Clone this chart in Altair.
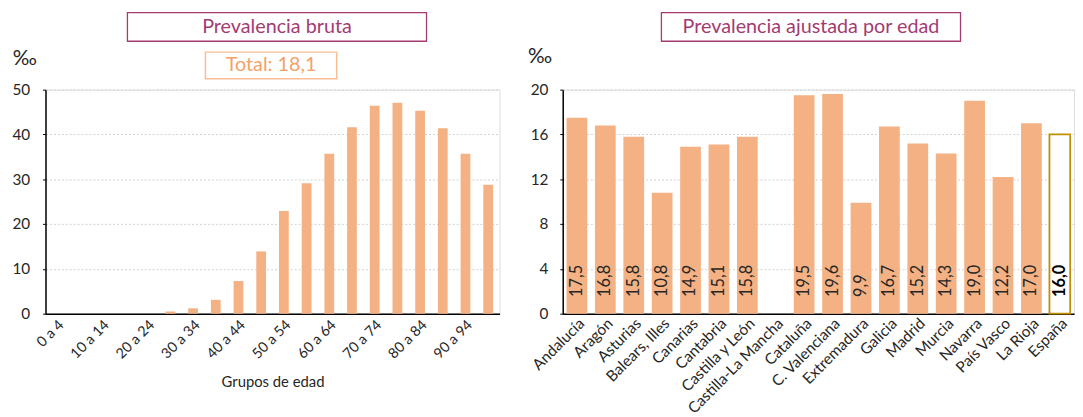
import altair as alt
import pandas as pd

# ---------- data ----------
edades = ["0 a 4", "5 a 9", "10 a 14", "15 a 19", "20 a 24", "25 a 29", "30 a 34",
          "35 a 39", "40 a 44", "45 a 49", "50 a 54", "55 a 59", "60 a 64", "65 a 69",
          "70 a 74", "75 a 79", "80 a 84", "85 a 89", "90 a 94", "95 y más"]
prev_bruta = [0.0, 0.0, 0.0, 0.0, 0.0, 0.5, 1.2, 3.1, 7.3, 13.9, 22.9, 29.1, 35.7,
              41.6, 46.4, 47.1, 45.3, 41.4, 35.7, 28.8]
etiquetas_edad = edades[0:19:2]

ccaa = ["Andalucía", "Aragón", "Asturias", "Balears, Illes", "Canarias", "Cantabria",
        "Castilla y León", "Castilla-La Mancha", "Cataluña", "C. Valenciana",
        "Extremadura", "Galicia", "Madrid", "Murcia", "Navarra", "País Vasco",
        "La Rioja", "España"]
prev_ajustada = [17.5, 16.8, 15.8, 10.8, 14.9, 15.1, 15.8, None, 19.5, 19.6, 9.9,
                 16.7, 15.2, 14.3, 19.0, 12.2, 17.0, 16.0]
total_texto = "Total: 18,1"
titulo_izq = "Prevalencia bruta"
titulo_der = "Prevalencia ajustada por edad"
unidad = "‰"

# ---------- styles ----------
FONT = "Lato"
BAR = "#F4B183"
PURPLE = "#A33B72"
ORANGE_T = "#F3A267"
ORANGE_B = "#F7BE94"
GOLD = "#BF9000"
TXT = "#262626"
TFS = 20      # title font size
AFS = 14.5    # axis label font size
XFS = 14.5    # rotated label font size (left)
XFS2 = 15.5   # rotated label font size (right)

W1, H = 460, 227
W2 = 518

df1 = pd.DataFrame({"edad": edades, "valor": prev_bruta})
df2 = pd.DataFrame({
    "ccaa": ccaa,
    "valor": prev_ajustada,
    "etiqueta": [("" if v is None else f"{v:.1f}".replace(".", ",")) for v in prev_ajustada],
    "esp": [c == "España" for c in ccaa],
})

one = pd.DataFrame({"a": [0]})


def box(x1, x2, y1, y2, color, width=1.3):
    return alt.Chart(one).mark_rect(fill="white", fillOpacity=0, stroke=color,
                                    strokeWidth=width).encode(
        x=alt.value(x1), x2=alt.value(x2), y=alt.value(y1), y2=alt.value(y2))


def label(txt, x, y, color, size):
    return alt.Chart(pd.DataFrame({"t": [txt]})).mark_text(
        font=FONT, fontSize=size, color=color, align="center", baseline="middle"
    ).encode(text="t:N", x=alt.value(x), y=alt.value(y))


# ---------- left chart ----------
xl = alt.X("edad:N", sort=edades,
           scale=alt.Scale(domain=edades, paddingInner=0.57, paddingOuter=0.285),
           axis=alt.Axis(values=etiquetas_edad, labelAngle=315, ticks=False,
                         domainColor="black", domainWidth=1.5,
                         labelFontSize=XFS, labelColor=TXT, labelPadding=4,
                         labelAlign="right", labelBaseline="top",
                         title="Grupos de edad", titleFontSize=AFS + 0.5,
                         titleFontWeight="normal", titleColor=TXT,
                         titleY=62, titleBaseline="top"))
yl = alt.Y("valor:Q", scale=alt.Scale(domain=[0, 50], nice=False),
           axis=alt.Axis(values=[0, 10, 20, 30, 40, 50], grid=True,
                         gridDash=[2, 2], gridColor="#D0D0D0", domainColor="black",
                         domainWidth=1.5, tickColor="black", tickSize=3,
                         labelPadding=13, labelFontSize=AFS + 1, labelColor=TXT,
                         title=None))

bars1 = alt.Chart(df1).mark_bar(color=BAR).encode(x=xl, y=yl)

left = alt.layer(
    bars1,
    box(83, 386, -78, -49, PURPLE),
    label(titulo_izq, 234.5, -63.5, PURPLE, TFS),
    box(162, 295, -38, -11, ORANGE_B, 1.5),
    label(total_texto, 228.5, -24.5, ORANGE_T, TFS),
    label(unidad, -21, -31, TXT, 21),
).properties(width=W1, height=H)

# ---------- right chart ----------
xr = alt.X("ccaa:N", sort=ccaa,
           scale=alt.Scale(domain=ccaa, paddingInner=0.27, paddingOuter=0.135),
           axis=alt.Axis(labelAngle=315, ticks=False, domainColor="black",
                         domainWidth=1.5, labelFontSize=XFS2, labelColor=TXT,
                         labelPadding=2, labelAlign="right", labelBaseline="top",
                         title=None))
yr = alt.Y("valor:Q", scale=alt.Scale(domain=[0, 20], nice=False),
           axis=alt.Axis(values=[0, 4, 8, 12, 16, 20], grid=True,
                         gridDash=[2, 2], gridColor="#D0D0D0", domainColor="black",
                         domainWidth=1.5, tickColor="black", tickSize=3,
                         labelPadding=12, labelFontSize=AFS + 1, labelColor=TXT,
                         title=None))

base2 = alt.Chart(df2).transform_filter("isValid(datum.valor)")
bars2 = base2.transform_filter("!datum.esp").mark_bar(color=BAR).encode(x=xr, y=yr)
bar_esp = base2.transform_filter("datum.esp").mark_bar(
    fill="white", stroke=GOLD, strokeWidth=1.8).encode(x=xr, y=yr)
txt2 = base2.transform_filter("!datum.esp").mark_text(
    angle=270, align="left", baseline="middle", dx=17, font=FONT, fontSize=16.5,
    color=TXT).encode(x=xr, y=alt.datum(0), text="etiqueta:N")
txt_esp = base2.transform_filter("datum.esp").mark_text(
    angle=270, align="left", baseline="middle", dx=17, font=FONT, fontSize=16.5,
    fontWeight="bold", color="black").encode(x=xr, y=alt.datum(0), text="etiqueta:N")

right = alt.layer(
    bars2, bar_esp, txt2, txt_esp,
    box(100, 403, -78, -49, PURPLE),
    label(titulo_der, 251.5, -63.5, PURPLE, TFS),
    label(unidad, -23, -33, TXT, 21),
).properties(width=W2, height=H)

chart = alt.hconcat(left, right, spacing=64, bounds="flush").properties(
    padding={"left": 3, "top": 0, "right": 0, "bottom": 0}
).configure_view(stroke=None).configure(font=FONT)

chart.save("out.html", embed_options={"renderer": "svg", "actions": False})
